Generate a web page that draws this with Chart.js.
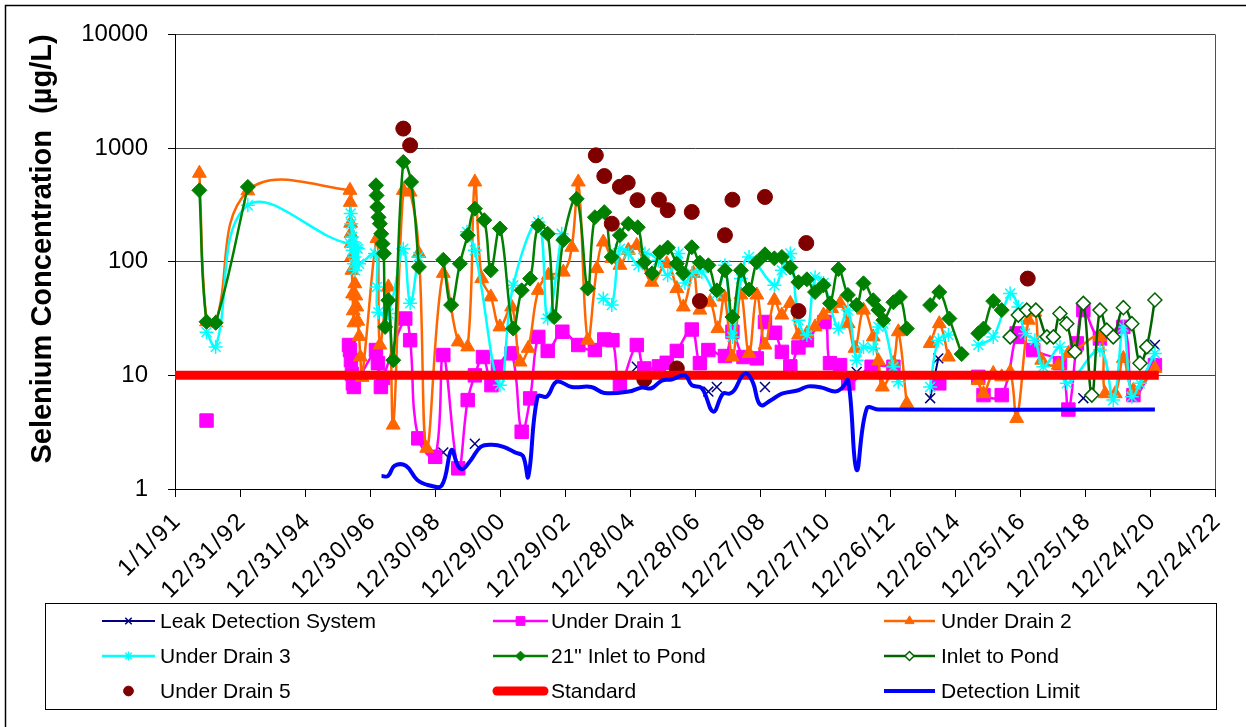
<!DOCTYPE html>
<html>
<head>
<meta charset="utf-8">
<title>Selenium Concentration</title>
<script src="https://cdn.jsdelivr.net/npm/chart.js@4.4.1/dist/chart.umd.min.js"></script>
<style>
  html, body { margin: 0; padding: 0; background: #fff; }
  #wrap { width: 1246px; height: 727px; position: relative; }
  canvas { display: block; }
</style>
</head>
<body>
<div id="wrap"><canvas id="chart" width="1246" height="727"></canvas></div>
<script>
// ---- Sample dates (decimal years) and selenium values (µg/L); null = no line across gap ----
const leakYear = [1999.25, 1999.7, 2000.22, 2002.7, 2005.20, 2006.3, 2007.40, 2007.53, 2007.66, 2008.4, 2009.14, 2010.5, 2011.96, 2013.0, 2014.22, 2014.47, 2016.5, 2018.93, 2020.0, 2021.13];
const leakVal  = [2.1, null, 2.5, null, 11.9, null, 7.2, null, 7.9, null, 7.9, null, 10.7, null, 6.3, 14.1, null, 6.3, null, 18.5];

const ud1Year = [1991.97, 1994.0, 1996.35, 1996.38, 1996.41, 1996.44, 1996.47, 1996.50, 1997.18, 1997.24, 1997.33, 1997.40,
  1998.08, 1998.23, 1998.48, 1999.00, 1999.25, 1999.71, 2000.00, 2000.22, 2000.47, 2000.73, 2000.93, 2001.35, 2001.66, 2001.92,
  2002.17, 2002.46, 2002.91, 2003.40, 2003.91, 2004.20, 2004.45, 2004.68, 2005.20, 2005.43, 2005.88, 2006.12, 2006.43, 2006.89,
  2007.14, 2007.40, 2007.91, 2008.14, 2008.48, 2008.89, 2009.14, 2009.45, 2009.66, 2009.92, 2010.17, 2010.43, 2010.97, 2011.14,
  2011.45, 2011.70, 2012.42, 2013.09, 2013.8, 2014.50, 2015.2, 2015.70, 2015.86, 2016.42, 2016.88, 2016.98, 2017.39, 2018.21,
  2018.47, 2018.73, 2018.93, 2019.44, 2020.16, 2020.47, 2021.13];
const ud1Val = [4, null, 18.5, 16.7, 13.6, 10.3, 8.5, 7.9, 16.7, 12.8, 7.9, 9.5,
  31.6, 20.4, 2.79, 1.92, 15.1, 1.52, 6.06, 10, 14.5, 8.2, 11.9, 15.6, 3.19, 6.27,
  21.8, 16.4, 24.2, 18.5, 16.7, 20.7, 20.4, 8.4, 18.5, 11.5, 12.0, 12.9, 16.4, 25.3,
  12.8, 16.7, 14.8, 24.2, 14.5, 14.1, 29.5, 23.7, 16.1, 12.0, 17.6, 20.4, 29.5, 12.8,
  12.3, 8.5, 11.9, 11.9, null, 8.5, null, 9.7, 6.7, 6.7, 23.4, 21.8, 16.7, 12.8,
  5.0, 19.1, 37.5, 21.1, 26.7, 6.7, 12.3];

const ud2Year = [1991.75, 1991.97, 1992.25, 1993.24,
  1996.38, 1996.39, 1996.40, 1996.41, 1996.42, 1996.43, 1996.44, 1996.46, 1996.48, 1996.50, 1996.53, 1996.56, 1996.59, 1996.62, 1996.66, 1996.70, 1996.75,
  1997.21, 1997.30, 1997.56, 1997.71, 1998.02, 1998.23, 1998.50, 1998.74, 1999.25, 1999.71,
  2000.00, 2000.22, 2000.43, 2000.71, 2000.99, 2001.35, 2001.61, 2001.86, 2002.17, 2002.48, 2002.94,
  2003.20, 2003.40, 2003.69, 2003.97, 2004.17, 2004.43, 2004.68, 2004.94, 2005.20, 2005.66,
  2006.12, 2006.43, 2006.63, 2006.94, 2007.14, 2007.45, 2007.69, 2007.89, 2008.14, 2008.40, 2008.65, 2008.89,
  2009.14, 2009.43, 2009.66, 2009.92, 2010.17, 2010.43, 2010.68, 2010.94, 2011.19, 2011.45, 2011.70, 2011.91,
  2012.17, 2012.47, 2012.63, 2012.75, 2013.09, 2013.24, 2013.50, 2013.85, 2014.22, 2014.50, 2014.78, 2015.25,
  2015.70, 2015.86, 2016.16, 2016.42, 2016.68, 2016.88, 2017.24, 2017.44, 2017.65, 2018.16, 2018.47, 2018.67,
  2019.44, 2019.60, 2019.91, 2020.16, 2020.47, 2021.13];
const ud2Val = [600, 29.6, 29, 420,
  425, 333, 218, 177, 145, 110, 84, 52, 37, 29, 64, 50, 40, 30, 22, 14.5, 9.6,
  160, 18.5, 60, 3.65, 425, 410, 118, 2.28, 79, 19.7,
  17.8, 503, 71, 49, 26.7, 40, 13.1, 17.3, 56, 76, 81,
  134, 503, 20.4, 87, 149, 107, 93, 126, 139, 66,
  96, 58, 40, 79, 37.5, 44, 25.8, 49, 14.5, 51, 15.6, 51,
  18.5, 45.8, 33.9, 43, 22.6, 23.4, 26.7, 33.9, 38.7, 43, 28.5, 17.3,
  37.5, 21.8, 13.4, 7.9, 12.8, 24.2, 5.66, null, 19.1, 28.5, 14.5, null,
  9.0, 6.9, 10.4, 9.7, 10.7, 4.18, 30.6, 36, 13.6, 12.3, 15.6, 16.7,
  21.8, 6.9, 6.9, 14.1, 7.4, 11.5];

const ud3Year = [1991.97, 1992.25, 1993.24,
  1996.38, 1996.40, 1996.42, 1996.44, 1996.46, 1996.48, 1996.50, 1996.52, 1996.54, 1996.58, 1996.62, 1996.66,
  1997.15, 1997.21, 1997.25, 1997.56, 1998.02, 1998.23, 1998.48, 1999.2, 1999.98, 2000.22, 2000.99, 2001.40,
  2002.17, 2002.46, 2002.89, 2003.5, 2004.17, 2004.43, 2004.68, 2004.94, 2005.25, 2005.45, 2005.86,
  2006.15, 2006.48, 2006.68, 2006.89, 2007.20, 2007.66, 2007.91, 2008.14, 2008.40, 2008.65,
  2009.43, 2009.66, 2009.92, 2010.17, 2010.43, 2010.68, 2010.94, 2011.40, 2011.69, 2011.96,
  2012.17, 2012.47, 2012.63, 2012.78, 2013.09, 2013.24, 2013.8, 2014.22, 2014.47, 2014.78, 2015.25, 2015.70,
  2016.16, 2016.68, 2016.93, 2017.14, 2017.44, 2017.70, 2018.21, 2018.42, 2019.44, 2019.85,
  2020.16, 2020.42, 2020.67, 2021.13];
const ud3Val = [24, 17.8, 314,
  145, 266, 216, 165, 126, 149, 96, 110, 84, 134, 130, 96,
  118, 60, 36, 35, 130, 43, 110, null, 183, 126, 8.2, 62,
  224, 31.6, 176, null, 47.5, 41.5, 130, 118, 93, 118, 103,
  76, 118, 65, 79, 81, 52.4, 93, 21.8, 71, 110,
  62, 84, 118, 30.6, 22.6, 73, 65, 25.8, 37.5, 13.6,
  17.8, 17.3, 26.7, 28.5, 11.9, 8.8, null, 7.9, 20.4, 22.6, null, 18.5,
  21.8, 52.4, 40, 23.4, 20.4, 11.9, 17.8, 8.5, 16.7, 6.06,
  26.7, 6.47, 8.5, 15.6];

const inlet21Year = [1991.75, 1991.97, 1992.25, 1993.24, 1995.0,
  1997.18, 1997.20, 1997.22, 1997.26, 1997.30, 1997.34, 1997.38, 1997.42, 1997.46, 1997.56, 1997.71,
  1998.02, 1998.26, 1998.50, 1998.9, 1999.25, 1999.49, 1999.76,
  2000.00, 2000.22, 2000.51, 2000.71, 2000.99, 2001.40, 2001.66, 2001.92,
  2002.17, 2002.46, 2002.66, 2002.94, 2003.35, 2003.69, 2003.91, 2004.20, 2004.43, 2004.68, 2004.94,
  2005.23, 2005.43, 2005.67, 2005.91, 2006.15, 2006.43, 2006.63, 2006.89, 2007.14, 2007.40, 2007.66, 2007.91,
  2008.14, 2008.40, 2008.65, 2008.89, 2009.14, 2009.43, 2009.66, 2009.92, 2010.17, 2010.43, 2010.68, 2010.94,
  2011.14, 2011.40, 2011.69, 2011.96, 2012.17, 2012.47, 2012.63, 2012.78, 2013.09, 2013.29, 2013.50, 2013.85,
  2014.22, 2014.50, 2014.81, 2015.19, 2015.45, 2015.70, 2015.86, 2016.16, 2016.42];
const inlet21Val = [425, 29.6, 29, 455, null,
  470, 383, 303, 246, 216, 176, 144, 118, 26.7, 45.8, 13.6,
  754, 503, 90, null, 104, 41.5, 96,
  171, 293, 232, 84, 196, 25.8, 56, 71,
  208, 176, 32.6, 155, 358, 58, 246, 273, 110, 171, 216,
  201, 99, 79, 121, 133, 96, 79, 134, 98, 93, 56, 84,
  32.6, 84, 57, 99, 116, 107, 110, 89, 66, 70, 54, 62,
  43, 86, 51, 41.5, 64.5, 45.8, 37.5, 30.6, 44, 49, 25.8, null,
  41.5, 54, 31.6, 15.4, null, 23.4, 25.8, 45, 37.5];

const inletYear = [2016.68, 2016.93, 2017.19, 2017.47, 2017.81, 2018.01, 2018.21, 2018.42, 2018.67, 2018.93,
  2019.19, 2019.44, 2019.65, 2019.85, 2020.16, 2020.42, 2020.67, 2020.88, 2021.13];
const inletVal = [21.8, 33.9, 37.5, 37.5, 21.8, 21.8, 35, 28.5, 16.1, 43,
  6.7, 37.5, 25, 21.8, 39.4, 28.5, 12.8, 17.8, 46];

const ud5Year = [1998.02, 1998.23, 2003.94, 2004.20, 2004.43, 2004.68, 2004.92, 2005.22, 2005.43, 2005.88,
  2006.15, 2006.43, 2006.89, 2007.14, 2007.91, 2008.14, 2009.14, 2010.17, 2010.41, 2017.22];
const ud5Val = [1483, 1057, 863, 567, 216, 456, 495, 348, 9.2, 351,
  284, 11.5, 274, 45, 171, 351, 371, 36.8, 146, 71];

const standardYear = [1991.0, 2021.25];
const standardVal = [10, 10];

const detectYear = [1997.35, 1997.55, 1997.75, 1998.10, 1998.45, 1998.80, 1999.20, 1999.50, 1999.70, 1999.85,
  2000.10, 2000.40, 2000.75, 2001.10, 2001.45, 2001.70, 2001.86, 2002.15, 2002.43, 2002.74,
  2003.20, 2003.80, 2004.20, 2004.95, 2005.35, 2005.65, 2005.97, 2006.27, 2006.68, 2006.89,
  2007.20, 2007.55, 2007.85, 2008.05, 2008.20, 2008.45, 2008.60, 2008.78, 2009.00, 2009.35,
  2009.66, 2010.17, 2010.47, 2010.89, 2011.29, 2011.50, 2011.70, 2011.96, 2012.27, 2012.63, 2021.13];
const detectVal = [1.3, 1.3, 1.6, 1.6, 1.2, 1.08, 1.07, 2.2, 1.6, 1.5,
  1.8, 2.35, 2.45, 2.35, 2.1, 1.95, 1.28, 6.5, 6.5, 8.8,
  7.9, 7.9, 7.0, 7.2, 7.8, 7.7, 9.0, 9.2, 10, 8.2,
  7.7, 4.8, 6.9, 6.9, 7.4, 10, 10.3, 8.5, 5.5, 6.1,
  6.9, 7.4, 8.0, 7.8, 7.2, 7.7, 9.0, 1.47, 5.1, 5.0, 5.0];

// Axis ticks: every 730 days starting 1/1/91, and decades on the log axis
const xTickLabels = ['1/1/91', '12/31/92', '12/31/94', '12/30/96', '12/30/98', '12/29/00', '12/29/02', '12/28/04',
  '12/28/06', '12/27/08', '12/27/10', '12/26/12', '12/26/14', '12/25/16', '12/25/18', '12/24/20', '12/24/22'];
const yTicks = [1, 10, 100, 1000, 10000];
const yTitle = 'Selenium Concentration  (µg/L)';

// ---- helpers ----
const FONT = '"Liberation Sans", Arial, Helvetica, sans-serif';
const TICK_DAYS = 730;
const toDays = yr => (yr - 1991.0) * 365.25;
const pts = (years, vals) => years.map((yr, i) => ({ x: toDays(yr), y: vals[i] }));

const base = { tension: 0.4, spanGaps: false, borderWidth: 2.5, pointBorderWidth: 1 };

const datasets = [
  { ...base, label: 'Leak Detection System', data: pts(leakYear, leakVal), borderColor: '#000080', backgroundColor: '#000080',
    pointStyle: 'crossRot', pointRadius: 7, pointBorderWidth: 1.5, borderWidth: 2 },
  { ...base, label: 'Under Drain 1', data: pts(ud1Year, ud1Val), borderColor: '#FF00FF', backgroundColor: '#FF00FF',
    pointStyle: 'rect', pointRadius: 9.5 },
  { ...base, label: 'Under Drain 2', data: pts(ud2Year, ud2Val), borderColor: '#FF6600', backgroundColor: '#FF6600',
    pointStyle: 'triangle', pointRadius: 8 },
  { ...base, label: 'Under Drain 3', data: pts(ud3Year, ud3Val), borderColor: '#00FFFF', backgroundColor: '#00FFFF',
    pointStyle: 'star', pointRadius: 7, pointBorderWidth: 1.5 },
  { ...base, label: '21" Inlet to Pond', data: pts(inlet21Year, inlet21Val), borderColor: '#008000', backgroundColor: '#008000',
    pointStyle: 'rectRot', pointRadius: 7.5 },
  { ...base, label: 'Inlet to Pond', data: pts(inletYear, inletVal), borderColor: '#006400', backgroundColor: '#FFFFFF',
    pointBorderColor: '#006400', pointStyle: 'rectRot', pointRadius: 7, pointBorderWidth: 1.5 },
  { ...base, label: 'Under Drain 5', data: pts(ud5Year, ud5Val), borderColor: '#800000', backgroundColor: '#800000',
    showLine: false, pointStyle: 'circle', pointRadius: 7.5 },
  { ...base, label: 'Standard', data: pts(standardYear, standardVal), borderColor: '#FF0000', backgroundColor: '#FF0000',
    tension: 0, borderWidth: 9, pointRadius: 0 },
  { ...base, label: 'Detection Limit', data: pts(detectYear, detectVal), borderColor: '#0000FF', backgroundColor: '#0000FF',
    borderWidth: 4, pointRadius: 0 }
];
// later series sit on top of earlier ones
datasets.forEach((d, i) => { d.order = datasets.length - i; });

// Extra drawing: rotated date labels, axis title, boxed legend, frame
const decorations = {
  id: 'decorations',
  beforeDraw(chart) {
    const { ctx, width, height } = chart;
    ctx.save();
    ctx.fillStyle = '#fff';
    ctx.fillRect(0, 0, width, height);
    ctx.restore();
  },
  beforeDatasetsDraw(chart) {
    const { ctx, chartArea: a } = chart;
    ctx.save();
    ctx.strokeStyle = '#505050';
    ctx.lineWidth = 1;
    ctx.beginPath();
    ctx.moveTo(Math.round(a.right) + 0.5, a.top);
    ctx.lineTo(Math.round(a.right) + 0.5, a.bottom);
    ctx.stroke();
    ctx.restore();
  },
  afterDraw(chart) {
    const { ctx, chartArea: a } = chart;
    const xs = chart.scales.x;

    // date labels at 45 degrees
    ctx.save();
    ctx.font = '24px ' + FONT;
    ctx.fillStyle = '#000';
    ctx.textAlign = 'right';
    ctx.textBaseline = 'middle';
    if ('letterSpacing' in ctx) ctx.letterSpacing = '2px';
    xTickLabels.forEach((lab, i) => {
      const px = xs.getPixelForValue(i * TICK_DAYS);
      ctx.save();
      ctx.translate(px + 3, a.bottom + 28);
      ctx.rotate(-Math.PI / 4);
      ctx.fillText(lab, 0, 0);
      ctx.restore();
    });
    ctx.restore();

    // y-axis title
    ctx.save();
    ctx.font = 'bold 29px ' + FONT;
    ctx.fillStyle = '#000';
    ctx.textAlign = 'center';
    ctx.textBaseline = 'middle';
    ctx.translate(42.5, 249);
    ctx.rotate(-Math.PI / 2);
    ctx.fillText(yTitle, 0, 0);
    ctx.restore();

    // legend box, three columns by three rows
    ctx.save();
    ctx.strokeStyle = '#000';
    ctx.lineWidth = 1;
    ctx.strokeRect(45.5, 603.5, 1171, 106);
    const cols = [{ x0: 102, x1: 155, tx: 160 }, { x0: 493, x1: 548, tx: 551 }, { x0: 884, x1: 935, tx: 941 }];
    const rows = [621, 656, 691];
    ctx.font = '21px ' + FONT;
    ctx.textBaseline = 'middle';
    ctx.textAlign = 'left';
    chart.data.datasets.forEach((d, i) => {
      const c = cols[i % 3], y = rows[Math.floor(i / 3)];
      const mid = (c.x0 + c.x1) / 2;
      if (d.showLine !== false) {
        ctx.save();
        ctx.strokeStyle = d.borderColor;
        ctx.lineWidth = d.borderWidth;
        ctx.lineCap = d.borderWidth > 6 ? 'round' : 'butt';
        ctx.beginPath();
        ctx.moveTo(c.x0 + (d.borderWidth > 6 ? 4 : 0), y);
        ctx.lineTo(c.x1 - (d.borderWidth > 6 ? 4 : 0), y);
        ctx.stroke();
        ctx.restore();
      }
      if (d.pointRadius > 0) {
        ctx.save();
        ctx.fillStyle = d.backgroundColor;
        ctx.strokeStyle = d.pointBorderColor || d.borderColor;
        ctx.lineWidth = d.pointBorderWidth;
        Chart.helpers.drawPoint(ctx, { pointStyle: d.pointStyle, radius: d.pointRadius * 0.65, rotation: 0,
          borderWidth: d.pointBorderWidth }, mid, y);
        ctx.restore();
      }
      ctx.fillStyle = '#000';
      ctx.fillText(d.label, c.tx, y + 1);
    });
    ctx.restore();

    // outer frame
    ctx.save();
    ctx.strokeStyle = '#000';
    ctx.lineWidth = 1.5;
    ctx.beginPath();
    ctx.moveTo(5.5, chart.height);
    ctx.lineTo(5.5, 5.5);
    ctx.lineTo(chart.width, 5.5);
    ctx.stroke();
    ctx.restore();
  }
};

Chart.defaults.font.family = FONT;

new Chart(document.getElementById('chart'), {
  type: 'line',
  data: { datasets },
  options: {
    responsive: false,
    animation: false,
    events: [],
    devicePixelRatio: 1,
    layout: { padding: { left: 0, top: 34, right: 31, bottom: 0 } },
    plugins: { legend: { display: false }, tooltip: { enabled: false }, title: { display: false } },
    scales: {
      x: {
        type: 'linear',
        min: 0,
        max: (xTickLabels.length - 1) * TICK_DAYS,
        afterBuildTicks: s => { s.ticks = xTickLabels.map((_, i) => ({ value: i * TICK_DAYS })); },
        afterFit: s => { s.height = 238; },
        ticks: { display: false },
        grid: { display: true, drawOnChartArea: false, drawTicks: true, tickLength: 8, tickColor: '#000', color: '#000' },
        border: { display: true, color: '#000', width: 1 }
      },
      y: {
        type: 'logarithmic',
        min: 1,
        max: 10000,
        afterBuildTicks: s => { s.ticks = yTicks.map(v => ({ value: v })); },
        afterFit: s => { s.width = 175; },
        ticks: { color: '#000', font: { size: 24, family: FONT }, padding: 20, callback: v => String(v) },
        grid: { display: true, color: '#404040', lineWidth: 1, drawTicks: true, tickLength: 7, tickColor: '#000' },
        border: { display: true, color: '#000', width: 1 }
      }
    }
  },
  plugins: [decorations]
});
</script>
</body>
</html>
